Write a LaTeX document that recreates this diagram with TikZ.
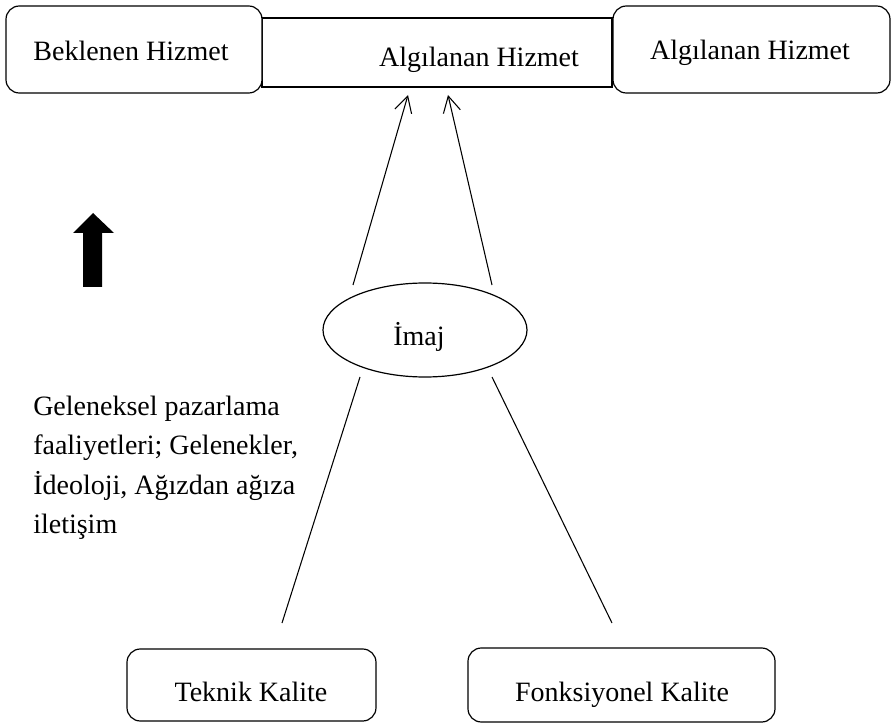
\documentclass[tikz,border=0pt]{standalone}
\usepackage{fontspec}
\setmainfont{Liberation Serif}
\usetikzlibrary{arrows.meta,shapes.geometric}
\begin{document}
\begin{tikzpicture}[x=0.75pt,y=-0.75pt,
  every node/.style={font=\fontsize{21}{29}\selectfont, inner sep=0pt},
  rbox/.style={draw, line width=0.9pt, rounded corners=10pt},
  plainbox/.style={draw, line width=0.9pt},
  link/.style={line width=0.8pt},
  uparrow/.style={link, -{Straight Barb[length=12pt,width=13pt,line width=0.8pt]}}]
\useasboundingbox (0,0) rectangle (892,727);

% top row: expected service, perceived service band, perceived service
\node[plainbox, minimum width=262.5pt, minimum height=51.75pt] (mid) at (437,52.5) {};
\node[rbox, fill=white, minimum width=192pt, minimum height=65.25pt] (expected) at (134,49.5) {};
\node[rbox, fill=white, minimum width=207.75pt, minimum height=65.25pt] (perceived) at (751.5,49.5) {};
\node[anchor=base] (expectedtxt) at (131,61) {Beklenen Hizmet};
\node[anchor=base] (midtxt) at (479,67) {Algılanan Hizmet};
\node[anchor=base] (perceivedtxt) at (750,60) {Algılanan Hizmet};

% image ellipse
\node[draw, ellipse, line width=0.9pt, minimum width=153pt, minimum height=70.5pt] (imaj) at (425,330) {};
\node[anchor=base] (imajtxt) at (419,345) {İmaj};

% bottom quality boxes
\node[rbox, minimum width=186.75pt, minimum height=54pt] (teknik) at (251.5,685) {};
\node[rbox, minimum width=230.25pt, minimum height=55.5pt] (fonk) at (621.5,685) {};
\node[anchor=base] (teknikTxt) at (251,701) {Teknik Kalite};
\node[anchor=base] (fonkTxt) at (622,701) {Fonksiyonel Kalite};

% connector end points
\coordinate (ul) at (353,285);
\coordinate (ur) at (492,285);
\coordinate (tl) at (408,95);
\coordinate (tr) at (448,95);
\coordinate (ll) at (360,377);
\coordinate (lr) at (492,377);
\coordinate (bl) at (282,623);
\coordinate (br) at (612,623);

\draw[uparrow] (ul) -- (tl);
\draw[uparrow] (ur) -- (tr);
\draw[link] (ll) -- (bl);
\draw[link] (lr) -- (br);

% block arrow on the left
\fill (93,213) -- (114,233) -- (102,233) -- (102,287) -- (83,287) -- (83,233) -- (73,233) -- cycle;

% traditional marketing activities
\node[anchor=base west] (g1) at (33,415) {Geleneksel pazarlama};
\node[anchor=base west] (g2) at (33,454) {faaliyetleri; Gelenekler,};
\node[anchor=base west] (g3) at (33,494) {İdeoloji, Ağızdan ağıza};
\node[anchor=base west] (g4) at (33,533) {iletişim};
\end{tikzpicture}
\end{document}
